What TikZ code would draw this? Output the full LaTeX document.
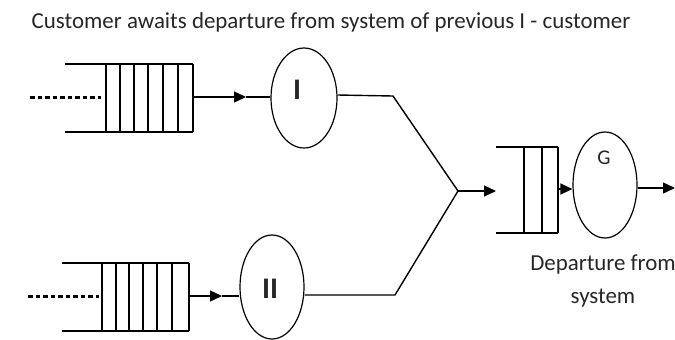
\documentclass[tikz,border=0pt]{standalone}
\usepackage{fontspec}
\setmainfont{Carlito}
\usetikzlibrary{arrows.meta,shapes.geometric}
\begin{document}
\begin{tikzpicture}[x=1bp,y=-1bp,
  line/.style={line width=1.4bp, black},
  qline/.style={line width=1.7bp, black},
  server/.style={ellipse, draw, line width=1.2bp, inner sep=0pt},
  tip/.style={-{Triangle[length=12bp,width=11bp]}},
  waiting/.style={line width=3bp, dash pattern=on 4.5bp off 3bp},
  lbl/.style={font=\fontsize{23}{25}\selectfont, text=black!85},
  roman/.style={font=\fontsize{30}{32}\selectfont\bfseries, text=black!85}]
\useasboundingbox (0,0) rectangle (675,339);

% heading
\node[font=\fontsize{23}{26}\selectfont, text=black!85] (title) at (331,22)
  {Customer awaits departure from system of previous I - customer};

% upper queue
\draw[qline] (65,64) -- (193,64) (65,132) -- (193,132);
\foreach \x in {106,120,134,148,163,178,193} \draw[qline] (\x,64) -- (\x,132);
\draw[waiting] (30,97) -- (101,97);
\coordinate (q1out) at (193,97);
\coordinate (a1) at (246,97);

% lower queue
\draw[qline] (62,263) -- (189,263) (62,331) -- (189,331);
\foreach \x in {102,116,129,143,157,172,189} \draw[qline] (\x,263) -- (\x,331);
\draw[waiting] (28,296) -- (99,296);
\coordinate (q2out) at (189,296);
\coordinate (a2) at (222,296);

% servers I and II
\node[server, minimum width=66bp, minimum height=100bp] (I) at (304,98) {};
\node[roman] (Ilbl) at (297,90) {I};
\node[server, minimum width=64bp, minimum height=104bp] (II) at (272,287) {};
\node[roman] (IIlbl) at (270,289) {II};

\draw[line, tip] (q1out) -- (a1);
\draw[line] (a1) -- (I.west |- a1);
\draw[line, tip] (q2out) -- (a2);
\draw[line] (a2) -- (II.west |- a2);

% merge of both streams
\coordinate (j1) at (393,96);
\coordinate (apex) at (458,191);
\coordinate (j2) at (395,295);
\coordinate (a3) at (496,191);
\draw[line] (I.east |- 0,95) -- (j1) -- (apex) -- (j2) -- (II.east |- j2);
\draw[line, tip] (apex) -- (a3);

% queue and server G
\draw[qline] (496,147) -- (558,147) (496,233) -- (558,233);
\foreach \x in {524,542,558} \draw[qline] (\x,147) -- (\x,233);
\coordinate (q3out) at (558,189);
\node[server, minimum width=64bp, minimum height=106bp] (G) at (605,185) {};
\node[lbl, font=\fontsize{21}{23}\selectfont] (Glbl) at (604,158) {G};
\draw[line, tip] (q3out) -- (G.west |- q3out);
\coordinate (out) at (675,188);
\draw[line, tip] (G.east |- out) -- (out);

\node[lbl, align=center] (dep) at (603,281) {Departure from\\[9bp]system};
\end{tikzpicture}
\end{document}
